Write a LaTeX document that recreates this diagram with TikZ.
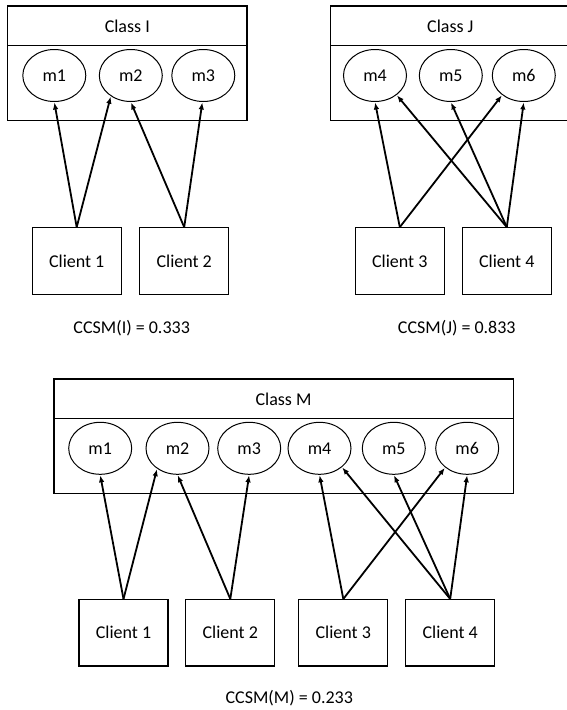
\documentclass[tikz,border=0pt]{standalone}
\usepackage{fontspec}
\setmainfont{Carlito}
\usetikzlibrary{shapes.geometric,arrows.meta}
\tikzset{
  classbox/.style={draw,line width=1.2pt,rectangle,inner sep=0pt},
  divider/.style={line width=1.2pt},
  method/.style={draw,ellipse,line width=1pt,minimum width=63pt,minimum height=52pt,inner sep=0pt},
  client/.style={draw,rectangle,line width=1.2pt,minimum width=89pt,minimum height=66.5pt,inner sep=0pt},
  lbl/.style={inner sep=0pt},
  conn/.style={line width=1.8pt,-{Latex[length=7pt,width=5.5pt]},shorten >=0.5pt}
}
\begin{document}
\begin{tikzpicture}[x=1pt,y=-1pt,font=\fontsize{18}{21}\selectfont]
\clip (0,0) rectangle (567,710);
\fill[white] (0,0) rectangle (567,710);

% ---------- Class I ----------
\node[classbox,minimum width=239.7pt,minimum height=114.7pt] (CI) at (127.15,63.35) {};
\coordinate (CIl) at (7.3,45.7);
\coordinate (CIr) at (247,45.7);
\draw[divider] (CIl) -- (CIr);
\node[lbl] (CIt) at (127.3,26) {Class I};
\node[method] (I1) at (54.3,75.5) {m1};
\node[method] (I2) at (130.8,75.5) {m2};
\node[method] (I3) at (203.3,75.5) {m3};
\node[client] (Ic1) at (76.7,261) {Client 1};
\node[client] (Ic2) at (184.2,261) {Client 2};
\draw[conn] (Ic1.north) -- (I1.south);
\draw[conn] (Ic1.north) -- (I2.226);
\draw[conn] (Ic2.north) -- (I2.south);
\draw[conn] (Ic2.north) -- (I3.268);
\node[lbl] (CCI) at (131.7,328) {CCSM(I) = 0.333};

% ---------- Class J ----------
\node[classbox,minimum width=240pt,minimum height=114.7pt] (CJ) at (450.7,63.35) {};
\coordinate (CJl) at (330.7,45.7);
\coordinate (CJr) at (570.7,45.7);
\draw[divider] (CJl) -- (CJr);
\node[lbl] (CJt) at (450.3,26) {Class J};
\node[method] (J4) at (375,75.5) {m4};
\node[method] (J5) at (450.8,75.5) {m5};
\node[method] (J6) at (523.8,75.5) {m6};
\node[client] (Jc3) at (399.8,261) {Client 3};
\node[client] (Jc4) at (506.8,261) {Client 4};
\draw[conn] (Jc3.north) -- (J4.south);
\draw[conn] (Jc3.north) -- (J6.222);
\draw[conn] (Jc4.north) -- (J4.318);
\draw[conn] (Jc4.north) -- (J5.south);
\draw[conn] (Jc4.north) -- (J6.south);
\node[lbl] (CCJ) at (456.8,328) {CCSM(J) = 0.833};

% ---------- Class M ----------
\node[classbox,minimum width=459.3pt,minimum height=114.3pt] (CM) at (283.65,436.15) {};
\coordinate (CMl) at (54,418.3);
\coordinate (CMr) at (513.3,418.3);
\draw[divider] (CMl) -- (CMr);
\node[lbl] (CMt) at (283.5,399) {Class M};
\node[method] (M1) at (100.2,448.3) {m1};
\node[method] (M2) at (177.5,448.3) {m2};
\node[method] (M3) at (249.2,448.3) {m3};
\node[method] (M4) at (319.5,448.3) {m4};
\node[method] (M5) at (393.8,448.3) {m5};
\node[method] (M6) at (467.2,448.3) {m6};
\node[client] (Mc1) at (123.5,632.8) {Client 1};
\node[client] (Mc2) at (230.3,632.8) {Client 2};
\node[client] (Mc3) at (343.3,632.8) {Client 3};
\node[client] (Mc4) at (450.2,632.8) {Client 4};
\draw[conn] (Mc1.north) -- (M1.south);
\draw[conn] (Mc1.north) -- (M2.225);
\draw[conn] (Mc2.north) -- (M2.south);
\draw[conn] (Mc2.north) -- (M3.south);
\draw[conn] (Mc3.north) -- (M4.south);
\draw[conn] (Mc3.north) -- (M6.221);
\draw[conn] (Mc4.north) -- (M4.320);
\draw[conn] (Mc4.north) -- (M5.south);
\draw[conn] (Mc4.north) -- (M6.south);
\node[lbl] (CCM) at (289.3,698) {CCSM(M) = 0.233};
\end{tikzpicture}
\end{document}
